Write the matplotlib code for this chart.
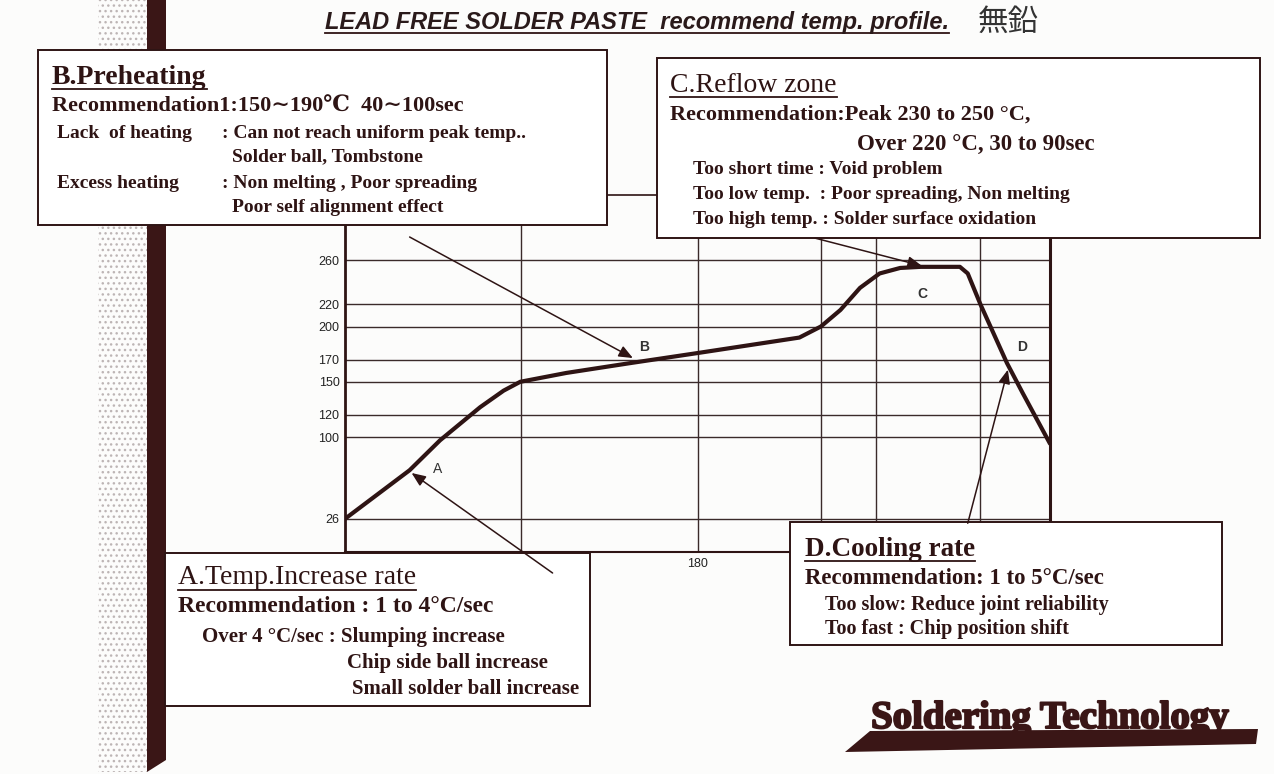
import matplotlib
matplotlib.use("Agg")
import matplotlib.pyplot as plt
from matplotlib.patches import Rectangle, Polygon, ConnectionPatch
from matplotlib.lines import Line2D
import matplotlib.patheffects as pe

W, H = 1274, 774

# reflow profile (sec, deg C)
time_s = [0, 33, 48.5, 69, 81, 89.5, 113, 146, 180, 232, 243, 253, 263, 273, 283.5, 294, 314, 318, 324.5, 338, 346, 360]
temp_c = [26, 70, 97, 127, 142, 150, 158, 167, 176, 190, 200, 215, 235, 248, 253, 254, 254, 248, 220, 167, 140, 94]

temp_ticks = [26, 100, 120, 150, 170, 200, 220, 260]
time_grid = [90, 180, 243, 271, 324]
time_labels = ["", "180", "", "", ""]

# zone letters and their pointer arrows (data coords)
zones = ["A", "B", "C", "D"]
zone_weight = ["normal", "bold", "bold", "bold"]
label_t = [47.5, 153, 295, 346]
label_v = [71, 181.5, 229.5, 181.5]
tail_t = [106, 33, 240, 318]
tail_v = [-23, 281, 280, 22]
head_t = [34, 147, 294.5, 338.5]
head_v = [67.5, 171.5, 255, 161]

ink = "#2e1414"
paper = "#fcfcfb"
serif = ["Liberation Serif", "DejaVu Serif"]


def fx(x):
    return x / W


def fy(y):
    return 1 - y / H


fig = plt.figure(figsize=(W / 100, H / 100), dpi=100, facecolor=paper)

# scanned binding edge on the left
fig.add_artist(Rectangle((fx(98), fy(772)), 49 / W, 772 / H, transform=fig.transFigure,
                         facecolor="none", edgecolor="#bdb5b5", hatch="...", lw=0, zorder=1))
fig.add_artist(Polygon([(fx(147), fy(0)), (fx(166), fy(0)), (fx(166), fy(760)), (fx(147), fy(772))],
                       closed=True, transform=fig.transFigure, facecolor="#3a1616", lw=0, zorder=1))

# the profile chart
ax = fig.add_axes([fx(345), fy(552), (1050 - 345) / W, (552 - 195) / H])
ax.set_facecolor("none")
ax.plot(time_s, temp_c, color=ink, lw=3, solid_joinstyle="round", solid_capstyle="round", zorder=3)
ax.set_xlim(0, 360)
ax.set_ylim(-4, 319)
ax.set_yticks(temp_ticks)
ax.set_xticks(time_grid, time_labels)
ax.grid(True, color="#3a2a2a", lw=1.0)
ax.tick_params(length=0, labelsize=9, colors="#222", pad=4)
for lab in ax.get_xticklabels() + ax.get_yticklabels():
    lab.set_family("Liberation Sans")
for side, lw in [("left", 2), ("right", 2.2), ("bottom", 1.5), ("top", 1.2)]:
    ax.spines[side].set_color(ink)
    ax.spines[side].set_linewidth(lw)

for i, z in enumerate(zones):
    ax.text(label_t[i], label_v[i], z, fontsize=10, family="Liberation Sans",
            weight=zone_weight[i], color="#333", ha="center", va="center")
    con = ConnectionPatch((tail_t[i], tail_v[i]), (head_t[i], head_v[i]), "data", "data",
                          axesA=ax, axesB=ax, arrowstyle="-|>,head_length=0.6,head_width=0.25",
                          mutation_scale=14, color=ink, lw=1.1, shrinkA=0, shrinkB=0, zorder=5)
    con.set_annotation_clip(False)
    fig.add_artist(con)

# explanation boxes
boxes = [(38, 50, 607, 225), (657, 58, 1260, 238), (165, 553, 590, 706), (790, 522, 1222, 645)]
for x0, y0, x1, y1 in boxes:
    fig.add_artist(Rectangle((fx(x0), fy(y1)), (x1 - x0) / W, (y1 - y0) / H, transform=fig.transFigure,
                             facecolor="white", edgecolor=ink, lw=1.4, zorder=2))

# (text, x, y, size, weight, underline)
lines = [
    ("B.Preheating", 52, 77, 20, "bold", True),
    ("Recommendation1:150∼190℃  40∼100sec", 52, 107, 16, "bold", False),
    ("Lack  of heating", 57, 133, 14, "bold", False),
    (": Can not reach uniform peak temp..", 222, 133, 14, "bold", False),
    ("Solder ball, Tombstone", 232, 157, 14, "bold", False),
    ("Excess heating", 57, 184, 14, "bold", False),
    (": Non melting , Poor spreading", 222, 184, 14, "bold", False),
    ("Poor self alignment effect", 232, 208, 14, "bold", False),
    ("C.Reflow zone", 670, 85, 20, "normal", True),
    ("Recommendation:Peak 230 to 250 °C,", 670, 115, 16, "bold", False),
    ("Over 220 °C, 30 to 90sec", 857, 145, 16.5, "bold", False),
    ("Too short time : Void problem", 693, 170, 14, "bold", False),
    ("Too low temp.  : Poor spreading, Non melting", 693, 194, 14, "bold", False),
    ("Too high temp. : Solder surface oxidation", 693, 219, 14, "bold", False),
    ("A.Temp.Increase rate", 178, 578, 20, "normal", True),
    ("Recommendation : 1 to 4°C/sec", 178, 607, 17, "bold", False),
    ("Over 4 °C/sec : Slumping increase", 202, 637, 15, "bold", False),
    ("Chip side ball increase", 347, 663, 15, "bold", False),
    ("Small solder ball increase", 352, 689, 15, "bold", False),
    ("D.Cooling rate", 805, 549, 19.5, "bold", True),
    ("Recommendation: 1 to 5°C/sec", 805, 578, 16.5, "bold", False),
    ("Too slow: Reduce joint reliability", 825, 605, 14.5, "bold", False),
    ("Too fast : Chip position shift", 825, 629, 14.5, "bold", False),
]
underlined = []
for s, x, y, size, weight, ul in lines:
    t = fig.text(fx(x), fy(y), s, fontsize=size, weight=weight, family=serif,
                 color=ink, ha="left", va="center", zorder=3)
    if ul:
        underlined.append(t)

title = fig.text(fx(637), fy(22), "LEAD FREE SOLDER PASTE  recommend temp. profile.",
                 fontsize=17, weight="bold", style="italic", family="Liberation Sans",
                 color="#2a1a1a", ha="center", va="center")
underlined.append(title)
fig.text(fx(1008), fy(22), "無鉛", fontsize=22, family=["Noto Sans CJK JP", "DejaVu Sans"],
         color="#333", ha="center", va="center")

# logo at bottom right
fig.add_artist(Polygon([(fx(845), fy(752)), (fx(870), fy(731)), (fx(1258), fy(729)), (fx(1256), fy(744))],
                       closed=True, transform=fig.transFigure, facecolor="#3a1616", lw=0, zorder=1))
fig.text(fx(1050), fy(728), "Soldering Technology", fontsize=28, weight="bold", family=serif,
         color="#3a1616", ha="center", va="baseline", zorder=3,
         path_effects=[pe.withStroke(linewidth=1.5, foreground="#3a1616")])

fig.canvas.draw()
r = fig.canvas.get_renderer()
for t in underlined:
    bb = t.get_window_extent(r)
    yy = (bb.y0 + 1) / H
    fig.add_artist(Line2D([bb.x0 / W, bb.x1 / W], [yy, yy], transform=fig.transFigure,
                          color=ink, lw=1.3, zorder=3))

fig.savefig("out.png", dpi=100, facecolor=paper)
